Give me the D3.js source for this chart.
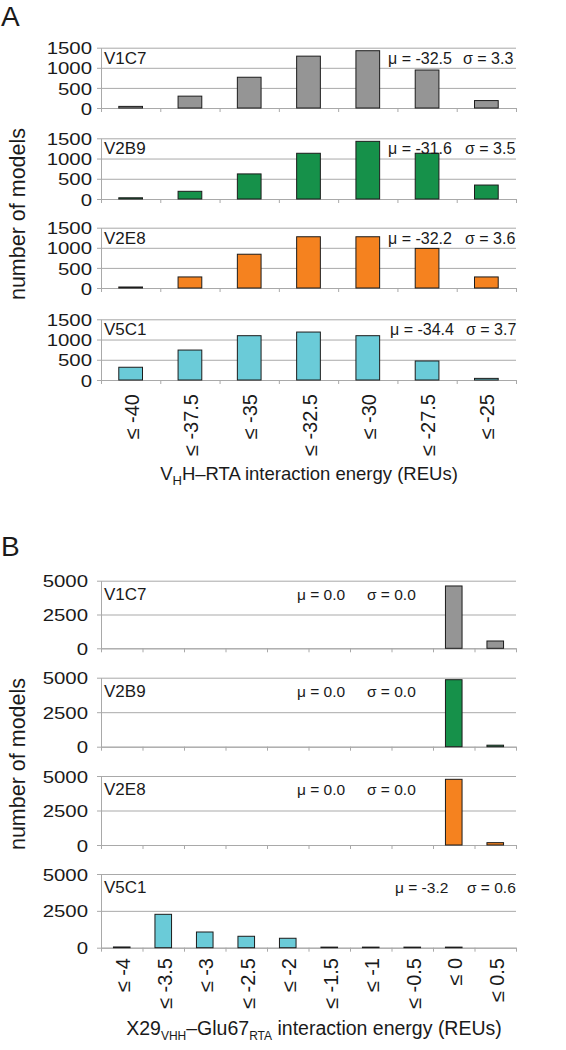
<!DOCTYPE html>
<html><head><meta charset="utf-8">
<script src="https://cdn.jsdelivr.net/npm/d3@7"></script>
<style>
html,body{margin:0;padding:0;background:#fff;}
svg{display:block;}
text{font-family:"Liberation Sans",Arial,Helvetica,sans-serif;fill:#1a1a1a;}
</style></head><body>
<svg id="c" width="566" height="1050"></svg>
<script>
// ---------- data ----------
const seriesNames = ["V1C7","V2B9","V2E8","V5C1"];
const seriesColors = ["#959595","#16914a","#f5821f","#6acbd8"];

const catsA = ["≤ -40","≤ -37.5","≤ -35","≤ -32.5","≤ -30","≤ -27.5","≤ -25"];
const v1c7A = [40,295,765,1290,1425,945,185];
const v2b9A = [30,190,620,1130,1425,1130,345];
const v2e8A = [25,275,840,1275,1275,985,275];
const v5c1A = [315,740,1095,1185,1095,470,40];
const muA = ["-32.5","-31.6","-32.2","-34.4"];
const sigmaA = ["3.3","3.5","3.6","3.7"];
const ticksA = [0,500,1000,1500];

const catsB = ["≤ -4","≤ -3.5","≤ -3","≤ -2.5","≤ -2","≤ -1.5","≤ -1","≤ -0.5","≤ 0","≤ 0.5"];
const v1c7B = [0,0,0,0,0,0,0,0,4610,540];
const v2b9B = [0,0,0,0,0,0,0,0,4855,110];
const v2e8B = [0,0,0,0,0,0,0,0,4760,170];
const v5c1B = [50,2265,1065,775,640,40,40,40,40,0];
const muB = ["0.0","0.0","0.0","-3.2"];
const sigmaB = ["0.0","0.0","0.0","0.6"];
const ticksB = [0,2500,5000];

// ---------- drawing ----------
const svg = d3.select("#c");
svg.append("rect").attr("width",566).attr("height",1050).attr("fill","#fff");
const X0 = 101, X1 = 516;
const gridColor = "#a9a9a9";

function panel(cfg){
  const n = cfg.cats.length;
  const x = d3.scaleBand().domain(cfg.cats).range([X0,X1]).paddingInner(0.6).paddingOuter(0.3);
  const xb = d3.scaleLinear().domain([0,n]).range([X0,X1]);
  cfg.series.forEach((vals,i)=>{
    const top = cfg.tops[i], bot = cfg.bottoms[i];
    const y = d3.scaleLinear().domain([0,cfg.max]).range([bot,top]);
    const g = svg.append("g");
    // gridlines
    g.append("g").attr("transform",`translate(${X0},0)`)
      .call(d3.axisLeft(y).tickValues(cfg.ticks).tickSize(-(X1-X0)).tickFormat(""))
      .call(a=>a.select(".domain").remove())
      .call(a=>a.selectAll("line").attr("stroke",gridColor).attr("stroke-width",1));
    // left axis
    g.append("g").attr("transform",`translate(${X0},0)`)
      .call(d3.axisLeft(y).tickValues(cfg.ticks).tickSize(4).tickSizeOuter(0).tickPadding(cfg.tickPad).tickFormat(d3.format("d")))
      .call(a=>a.select(".domain").attr("stroke",gridColor))
      .call(a=>a.selectAll("line").attr("stroke",gridColor))
      .call(a=>a.selectAll("text").attr("font-size",cfg.tickFont).attr("fill","#1a1a1a")
             .attr("font-family",'"Liberation Sans",Arial,sans-serif')
             .attr("x",0).attr("dy","0.36em")
             .attr("transform",`translate(${-(4+cfg.tickPad)},0) scale(1.2,1)`));
    // bottom axis with boundary ticks
    g.append("g").attr("transform",`translate(0,${bot})`)
      .call(d3.axisBottom(xb).ticks(n).tickSize(4).tickSizeOuter(0).tickFormat(""))
      .call(a=>a.select(".domain").attr("stroke",gridColor))
      .call(a=>a.selectAll("line").attr("stroke",gridColor));
    // bars
    g.selectAll("rect.bar").data(vals.map((v,j)=>({v,c:cfg.cats[j]})).filter(d=>d.v>0))
      .join("rect").attr("class","bar")
      .attr("x",d=>x(d.c)).attr("y",d=>y(d.v))
      .attr("width",x.bandwidth()).attr("height",d=>bot-y(d.v))
      .attr("fill",seriesColors[i]).attr("stroke","#1c1c1c").attr("stroke-width",1);
    // name + stats
    g.append("text").attr("x",104).attr("y",top+cfg.nameDy).attr("font-size",cfg.nameFont)
      .text(seriesNames[i]);
    g.append("text").attr("x",cfg.muX[i]).attr("y",top+cfg.nameDy).attr("font-size",cfg.annFont)
      .text("μ = "+cfg.mu[i]);
    g.append("text").attr("x",cfg.sigX[i]).attr("y",top+cfg.nameDy).attr("font-size",cfg.annFont)
      .text("σ = "+cfg.sig[i]);
    if(i===cfg.series.length-1){
      g.selectAll("text.xl").data(cfg.cats).join("text").attr("class","xl")
        .attr("text-anchor","end").attr("font-size",cfg.xFont).attr("dy","0.35em")
        .attr("transform",d=>`translate(${x(d)+x.bandwidth()/2+cfg.xOff},${cfg.labelTop}) rotate(-90)`)
        .text(d=>d);
    }
  });
}

panel({cats:catsA, series:[v1c7A,v2b9A,v2e8A,v5c1A], max:1500, ticks:ticksA,
  tops:[47.7,138.3,227.7,319.3], bottoms:[108,199,288,380],
  tickPad:5, tickFont:17, nameDy:16, nameFont:17, annFont:16,
  mu:muA, sig:sigmaA, muX:[388,388,388,390], sigX:[463,465,465,466],
  labelTop:394, xFont:20, xOff:1});

panel({cats:catsB, series:[v1c7B,v2b9B,v2e8B,v5c1B], max:5000, ticks:ticksB,
  tops:[580.7,677.7,776,874], bottoms:[648.3,746.7,845,947.7],
  tickPad:9, tickFont:17, nameDy:19, nameFont:17, annFont:15.5,
  mu:muB, sig:sigmaB, muX:[297,297,297,395], sigX:[367,367,367,467],
  labelTop:958, xFont:20, xOff:1.5});

// panel letters
svg.append("text").attr("x",1).attr("y",26).attr("font-size",28).text("A");
svg.append("text").attr("x",1).attr("y",556).attr("font-size",28).text("B");

// y titles
[214,764].forEach(cy=>{
  svg.append("text").attr("text-anchor","middle").attr("font-size",21.5)
    .attr("transform",`translate(25,${cy}) rotate(-90)`).text("number of models");
});

// x titles
const tA = svg.append("text").attr("x",309).attr("y",480).attr("text-anchor","middle").attr("font-size",18.5);
tA.append("tspan").text("V");
tA.append("tspan").attr("font-size",13).attr("dy",5).text("H");
tA.append("tspan").attr("dy",-5).text("H–RTA interaction energy (REUs)");

const tB = svg.append("text").attr("x",314).attr("y",1035).attr("text-anchor","middle").attr("font-size",19.5);
tB.append("tspan").text("X29");
tB.append("tspan").attr("font-size",12).attr("dy",5).text("VHH");
tB.append("tspan").attr("dy",-5).text("–Glu67");
tB.append("tspan").attr("font-size",12).attr("dy",5).text("RTA");
tB.append("tspan").attr("dy",-5).text(" interaction energy (REUs)");
</script>
</body></html>
